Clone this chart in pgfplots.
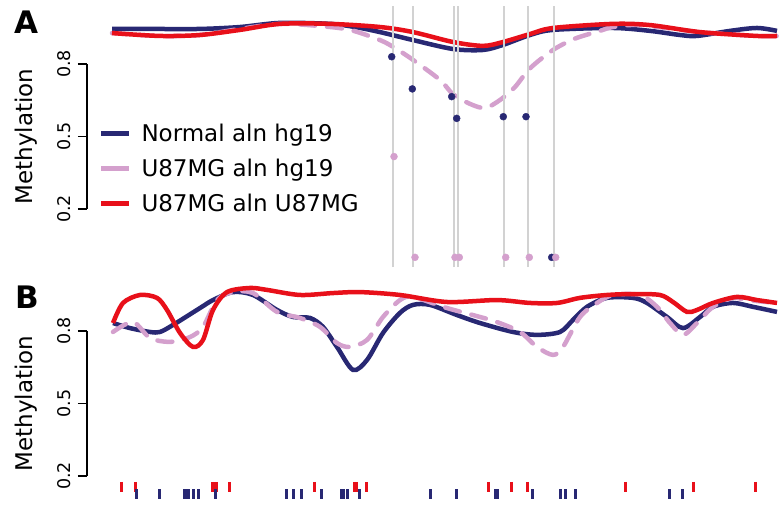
\documentclass[border=0pt]{standalone}
\usepackage{fontspec}
\setmainfont{DejaVu Sans}
\usepackage{pgfplots}
\pgfplotsset{compat=1.18}
\definecolor{navy}{RGB}{40,40,115}
\definecolor{rred}{RGB}{232,16,26}
\definecolor{lpink}{RGB}{212,160,205}
\definecolor{lgrey}{RGB}{210,210,210}
\pgfplotsset{
  curve/.style={line width=4.5pt, smooth, tension=0.5, no marks},
  pinkc/.style={curve, color=lpink, dash pattern=on 15pt off 12pt, line cap=round},
  main/.style={scale only axis, anchor=south west, width=784pt, xmin=0, xmax=784, hide axis, clip=false},
  yhelper/.style={scale only axis, anchor=south west, width=10pt, height=145pt,
    xmin=0, xmax=1, ymin=0.2, ymax=0.8, axis x line=none, axis y line=left,
    y axis line style={-, line width=1.8pt, black},
    ytick={0.2,0.5,0.8}, yticklabels={0.2,0.5,0.8},
    tick align=outside, major tick length=9pt,
    ytick style={line width=1.8pt, black},
    yticklabel style={rotate=90, anchor=south, inner xsep=0pt, inner ysep=7pt, font=\fontsize{17.5}{17.5}\selectfont},
    /pgf/number format/assume math mode=true,
    ylabel={Methylation},
    every axis y label/.style={at={(axis description cs:-5.0,0.5)}, rotate=90, anchor=south, inner sep=0pt, font=\fontsize{23}{23}\selectfont}},
}
\begin{document}
\begin{tikzpicture}[x=1pt,y=1pt]
\useasboundingbox (0,0) rectangle (784,505);
% ---------------- Panel A ----------------
\begin{axis}[main, at={(0pt,235pt)}, height=270pt, ymin=-0.0523, ymax=1.0648,
  legend style={draw=none, fill=none, inner sep=0pt, outer sep=0pt,
    at={(axis cs:99,0.552)}, anchor=north west,
    font=\fontsize{23}{23}\selectfont, row sep=16pt, nodes={inner sep=0pt}},
  legend cell align=left,
  legend image code/.code={\draw[#1] (0pt,0pt) -- (28pt,0pt); \path (38pt,0pt);}]
\addplot[curve, navy, forget plot] coordinates {
(112,0.945) (150,0.945) (200,0.945) (240,0.953) (280,0.970) (330,0.966) (355,0.953)
(380,0.932) (413,0.899) (453,0.862) (483,0.858) (503,0.879) (530,0.920) (553,0.941)
(613,0.949) (650,0.937) (680,0.920) (697,0.916) (730,0.937) (757,0.949) (777,0.937)};
\addplot[pinkc, forget plot] coordinates {
(112,0.928) (160,0.916) (200,0.920) (240,0.945) (280,0.966) (320,0.957) (350,0.941)
(380,0.899) (395,0.866) (413,0.817) (440,0.734) (453,0.675) (470,0.635) (485,0.618)
(500,0.651) (515,0.705) (530,0.782) (553,0.858) (575,0.905) (600,0.937) (613,0.953)
(640,0.961) (700,0.932) (757,0.916) (777,0.916)};
\addplot[curve, rred, forget plot] coordinates {
(112,0.928) (160,0.916) (200,0.920) (240,0.941) (280,0.966) (330,0.966) (380,0.953)
(413,0.932) (453,0.891) (483,0.875) (503,0.891) (530,0.924) (553,0.949) (613,0.966)
(650,0.961) (700,0.932) (757,0.916) (777,0.916)};
% grey vertical lines
\addplot[lgrey, line width=2pt, forget plot] coordinates {(393.3,-0.04) (393.3,1.04)};
\addplot[lgrey, line width=2pt, forget plot] coordinates {(413.3,-0.04) (413.3,1.04)};
\addplot[lgrey, line width=2pt, forget plot] coordinates {(454,-0.04) (454,1.04)};
\addplot[lgrey, line width=2pt, forget plot] coordinates {(457.7,-0.04) (457.7,1.04)};
\addplot[lgrey, line width=2pt, forget plot] coordinates {(504.3,-0.04) (504.3,1.04)};
\addplot[lgrey, line width=2pt, forget plot] coordinates {(527.7,-0.04) (527.7,1.04)};
\addplot[lgrey, line width=2pt, forget plot] coordinates {(554,-0.04) (554,1.04)};
% dots
\addplot[only marks, mark=*, mark size=3.5pt, navy, forget plot] coordinates {
(391.7,0.830) (412.3,0.697) (451.7,0.665) (456.7,0.575) (503.3,0.582) (526,0.582) (551.7,0.0)};
\addplot[only marks, mark=*, mark size=3.5pt, lpink, forget plot] coordinates {
(394,0.417) (415,0.0) (455,0.0) (459.3,0.0) (505.7,0.0) (529.3,0.0) (555.7,0.0)};
\addlegendimage{navy, line width=4.5pt}
\addlegendentry{Normal aln hg19}
\addlegendimage{lpink, line width=4.5pt}
\addlegendentry{U87MG aln hg19}
\addlegendimage{rred, line width=4.5pt}
\addlegendentry{U87MG aln U87MG}
\end{axis}
\begin{axis}[yhelper, at={(87pt,296pt)}]
\end{axis}
% ---------------- Panel B ----------------
\begin{axis}[main, at={(0pt,0pt)}, height=235pt, ymin=0.0801, ymax=1.0524]
\addplot[curve, navy] coordinates {
(113,0.833) (130,0.812) (150,0.796) (160,0.796) (173,0.825) (200,0.895) (213,0.928)
(233,0.961) (253,0.949) (277,0.887) (293,0.858) (310,0.854) (323,0.817) (337,0.734)
(353,0.639) (367,0.680) (383,0.792) (400,0.875) (413,0.908) (430,0.908) (457,0.866)
(480,0.833) (513,0.796) (537,0.784) (560,0.796) (573,0.846) (587,0.900) (607,0.937)
(633,0.937) (647,0.916) (667,0.858) (683,0.812) (700,0.858) (713,0.900) (733,0.916)
(753,0.900) (777,0.879)};
\addplot[pinkc] coordinates {
(113,0.796) (133,0.837) (150,0.771) (170,0.755) (190,0.775) (203,0.817) (217,0.928)
(233,0.961) (253,0.957) (277,0.879) (300,0.854) (320,0.817) (337,0.750) (350,0.734)
(367,0.763) (383,0.858) (400,0.928) (413,0.941) (447,0.895) (480,0.858) (497,0.837)
(520,0.796) (537,0.734) (553,0.701) (563,0.734) (580,0.858) (597,0.916) (613,0.949)
(640,0.949) (657,0.900) (670,0.833) (683,0.784) (697,0.833) (713,0.900) (733,0.937)
(747,0.928) (777,0.916)};
\addplot[curve, rred] coordinates {
(113,0.833) (123,0.916) (140,0.949) (157,0.937) (167,0.887) (180,0.792) (193,0.734)
(203,0.763) (213,0.887) (227,0.961) (250,0.978) (267,0.970) (300,0.949) (333,0.957)
(360,0.961) (400,0.949) (447,0.920) (497,0.928) (530,0.916) (557,0.916) (580,0.937)
(607,0.949) (633,0.953) (660,0.949) (673,0.920) (687,0.879) (697,0.887) (713,0.916)
(737,0.941) (757,0.928) (777,0.916)};
% rugs
\addplot[only marks, mark=|, mark size=5pt, rred, mark options={line width=3pt}] coordinates {
(121.7,0.155) (135,0.155) (212.3,0.155) (214,0.155) (216,0.155) (229.3,0.155) (314,0.155)
(354,0.155) (356,0.155) (366,0.155) (488.3,0.155) (511.7,0.155) (527.3,0.155)
(625.7,0.155) (693.3,0.155) (755.7,0.155)};
\addplot[only marks, mark=|, mark size=5pt, navy, mark options={line width=3pt}] coordinates {
(136,0.124) (159,0.124) (184.3,0.124) (186,0.124) (188.3,0.124) (193.3,0.124) (198.3,0.124)
(215,0.124) (286,0.124) (293.3,0.124) (301.7,0.124) (321.7,0.124) (341.7,0.124)
(343.3,0.124) (347.3,0.124) (359.3,0.124) (430.7,0.124) (456.7,0.124) (495.7,0.124)
(497.3,0.124) (532.7,0.124) (560,0.124) (565.7,0.124) (575,0.124) (669.3,0.124) (682.7,0.124)};
\end{axis}
\begin{axis}[yhelper, at={(87pt,29pt)}]
\end{axis}
% panel letters
\node[anchor=base, font=\bfseries\fontsize{31}{31}\selectfont, inner sep=0pt] at (26,471) {A};
\node[anchor=base, font=\bfseries\fontsize{31}{31}\selectfont, inner sep=0pt] at (27.5,196) {B};
\end{tikzpicture}
\end{document}
